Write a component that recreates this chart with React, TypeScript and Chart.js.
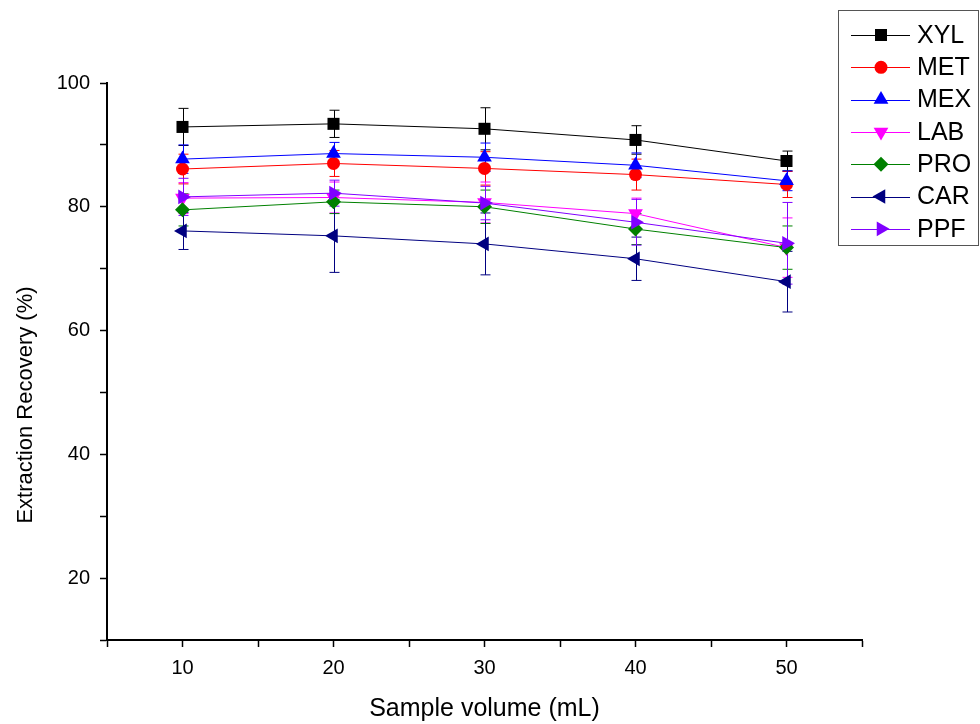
import React, { useEffect, useRef } from "react";
import { Chart, registerables } from "chart.js";
import { drawPoint } from "chart.js/helpers";

Chart.register(...registerables);

const volumes = [10, 20, 30, 40, 50];
const seriesNames = ["XYL", "MET", "MEX", "LAB", "PRO", "CAR", "PPF"];

const XYL = [92.9, 93.4, 92.6, 90.8, 87.4];
const XYL_err = [3.0, 2.2, 3.4, 2.3, 1.6];
const MET = [86.1, 87.0, 86.2, 85.2, 83.6];
const MET_err = [2.4, 2.1, 2.7, 2.5, 2.1];
const MEX = [87.7, 88.6, 88.0, 86.7, 84.2];
const MEX_err = [2.3, 1.8, 2.3, 2.0, 1.6];
const LAB = [81.4, 81.5, 80.7, 78.9, 73.4];
const LAB_err = [2.5, 2.5, 3.3, 2.5, 4.8];
const PRO = [79.5, 80.8, 80.0, 76.4, 73.4];
const PRO_err = [2.6, 1.9, 2.7, 2.5, 3.5];
const CAR = [76.1, 75.3, 74.0, 71.6, 67.9];
const CAR_err = [3.0, 5.9, 5.0, 3.5, 4.9];
const PPF = [81.6, 82.2, 80.6, 77.5, 74.1];
const PPF_err = [3.0, 2.1, 2.7, 3.7, 6.6];

const yTickLabels = [20, 40, 60, 80, 100];
const xTickLabels = [10, 20, 30, 40, 50];

const values = [XYL, MET, MEX, LAB, PRO, CAR, PPF];
const errors = [XYL_err, MET_err, MEX_err, LAB_err, PRO_err, CAR_err, PPF_err];
const colors = ["#000000", "#ff0000", "#0000ff", "#ff00ff", "#008000", "#000080", "#8000ff"];
const styles = ["rect", "circle", "triangle", "triangle", "rectRot", "triangle", "triangle"];
const rotations = [0, 0, 0, 180, 0, 270, 90];
const radii = [8.5, 6.5, 8.5, 8.5, 7.5, 8.5, 8.5];

const FONT = "'Liberation Sans', Arial, sans-serif";

const errorBarPlugin = {
  id: "errorBars",
  beforeDatasetsDraw(chart: any) {
    const ctx = chart.ctx;
    const xs = chart.scales.x;
    const ys = chart.scales.y;
    ctx.save();
    ctx.lineWidth = 1;
    chart.data.datasets.forEach((ds: any, i: number) => {
      const errs = errors[i];
      ctx.strokeStyle = colors[i];
      ds.data.forEach((p: any, j: number) => {
        const px = Math.round(xs.getPixelForValue(p.x)) + 0.5;
        const top = ys.getPixelForValue(p.y + errs[j]);
        const bot = ys.getPixelForValue(p.y - errs[j]);
        ctx.beginPath();
        ctx.moveTo(px, top);
        ctx.lineTo(px, bot);
        ctx.moveTo(px - 5, top);
        ctx.lineTo(px + 5, top);
        ctx.moveTo(px - 5, bot);
        ctx.lineTo(px + 5, bot);
        ctx.stroke();
      });
    });
    ctx.restore();
  },
};

const decorPlugin = {
  id: "decor",
  afterDraw(chart: any) {
    const ctx = chart.ctx;
    const area = chart.chartArea;
    ctx.save();
    // axis titles
    ctx.fillStyle = "#000";
    ctx.font = `25px ${FONT}`;
    ctx.textAlign = "center";
    ctx.textBaseline = "middle";
    ctx.fillText("Sample volume (mL)", (area.left + area.right) / 2, 709);
    ctx.save();
    ctx.translate(26, 405);
    ctx.rotate(-Math.PI / 2);
    ctx.font = `22px ${FONT}`;
    ctx.fillText("Extraction Recovery (%)", 0, 0);
    ctx.restore();

    // legend
    ctx.lineWidth = 1;
    ctx.strokeStyle = "#555";
    ctx.strokeRect(838.5, 10.5, 140, 235);
    chart.data.datasets.forEach((ds: any, i: number) => {
      const y = 35 + i * 32.3;
      ctx.strokeStyle = colors[i];
      ctx.lineWidth = 1;
      ctx.beginPath();
      ctx.moveTo(851, Math.round(y) + 0.5);
      ctx.lineTo(910, Math.round(y) + 0.5);
      ctx.stroke();
      ctx.fillStyle = colors[i];
      drawPoint(ctx, { pointStyle: styles[i], rotation: rotations[i], radius: radii[i], borderWidth: 0 }, 881, y);
      ctx.fillStyle = "#000";
      ctx.font = `25px ${FONT}`;
      ctx.textAlign = "left";
      ctx.textBaseline = "middle";
      ctx.fillText(ds.label, 917, y + 1);
    });
    ctx.restore();
  },
};

export default function App() {
  const ref = useRef<HTMLCanvasElement | null>(null);
  useEffect(() => {
    document.body.style.margin = "0";
    const datasets = seriesNames.map((name, i) => ({
      label: name,
      data: volumes.map((v, j) => ({ x: v, y: values[i][j] })),
      borderColor: colors[i],
      backgroundColor: colors[i],
      borderWidth: 1,
      pointStyle: styles[i],
      pointRotation: rotations[i],
      pointRadius: radii[i],
      pointBorderWidth: 0,
      tension: 0,
      order: seriesNames.length - i,
    }));
    const chart = new Chart(ref.current!, {
      type: "line",
      data: { datasets },
      plugins: [errorBarPlugin, decorPlugin],
      options: {
        animation: false,
        responsive: false,
        devicePixelRatio: 1,
        layout: { padding: { left: 0, top: 83, right: 118, bottom: 0 } },
        plugins: { legend: { display: false }, tooltip: { enabled: false } },
        scales: {
          x: {
            type: "linear",
            min: 5,
            max: 55,
            afterFit: (s: any) => { s.height = 84; },
            ticks: {
              stepSize: 5,
              autoSkip: false,
              maxRotation: 0,
              padding: 9,
              color: "#000",
              font: { family: FONT, size: 20 },
              callback: (v: any) => (xTickLabels.includes(v) ? String(v) : ""),
            },
            grid: { drawOnChartArea: false, drawTicks: true, tickLength: 7, tickColor: "#000", tickWidth: 1.5 },
            border: { color: "#000", width: 2 },
          },
          y: {
            type: "linear",
            min: 10,
            max: 100,
            afterFit: (s: any) => { s.width = 107; },
            ticks: {
              stepSize: 10,
              autoSkip: false,
              padding: 10,
              color: "#000",
              font: { family: FONT, size: 20 },
              callback: (v: any) => (yTickLabels.includes(v) ? String(v) : ""),
            },
            grid: { drawOnChartArea: false, drawTicks: true, tickLength: 7, tickColor: "#000", tickWidth: 1.5 },
            border: { color: "#000", width: 2 },
          },
        },
      },
    });
    return () => chart.destroy();
  }, []);
  return (
    <div style={{ width: 980, height: 724, background: "#fff" }}>
      <canvas ref={ref} width={980} height={724} style={{ display: "block" }} />
    </div>
  );
}
